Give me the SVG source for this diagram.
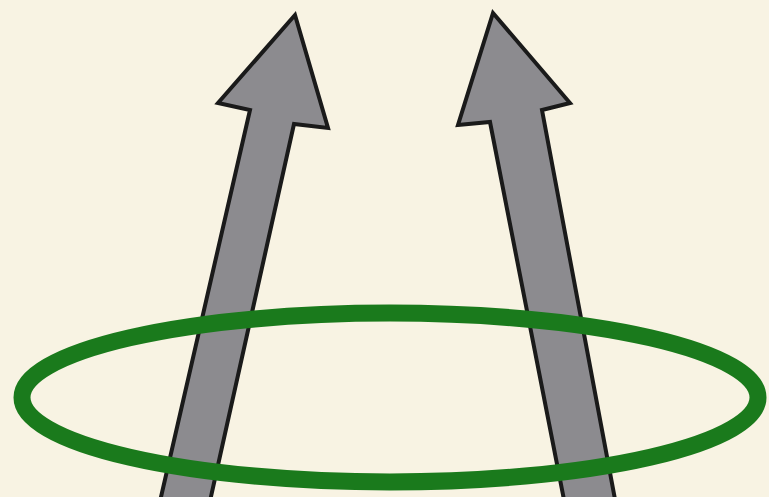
<svg xmlns="http://www.w3.org/2000/svg" width="769" height="497" viewBox="0 0 769 497">
<style>
.arrow{fill:#8c8b8f;stroke:#1a1a1a;stroke-width:4;stroke-linejoin:miter}
.ring{fill:none;stroke:#1a7a1c;stroke-width:17}
</style>
<rect width="769" height="497" fill="#f8f3e3"/>
<g id="arrow-left">
<polygon class="arrow" points="295,15 328,128 294,124 208,510 158,510 250,110 218,103"/>
</g>
<g id="arrow-right">
<polygon class="arrow" points="493,13 570,103 542,110 617,510 566,510 490,122 458,125"/>
</g>
<g id="ring">
<ellipse class="ring" cx="390" cy="397.5" rx="368" ry="84.5"/>
</g>
</svg>
